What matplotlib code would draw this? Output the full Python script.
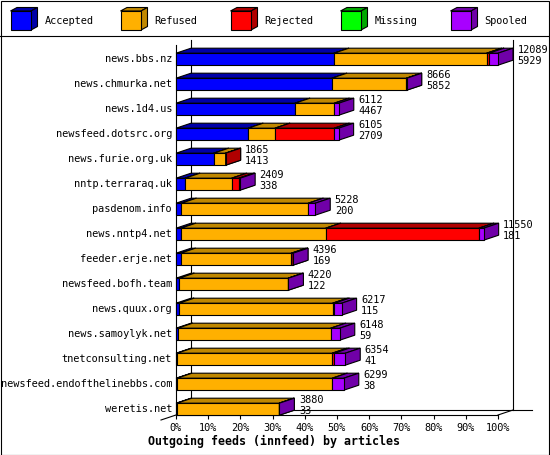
"""Outgoing feeds (innfeed) by articles - 3D stacked bar chart."""

import matplotlib

matplotlib.use("Agg")

import matplotlib.pyplot as plt
from matplotlib.patches import Polygon, Rectangle

plt.rcParams["font.family"] = ["DejaVu Sans Mono"]

sites = [
    "news.bbs.nz", "news.chmurka.net", "news.1d4.us", "newsfeed.dotsrc.org",
    "news.furie.org.uk", "nntp.terraraq.uk", "pasdenom.info", "news.nntp4.net",
    "feeder.erje.net", "newsfeed.bofh.team", "news.quux.org",
    "news.samoylyk.net", "tnetconsulting.net", "newsfeed.endofthelinebbs.com",
    "weretis.net",
]
totals = [12089, 8666, 6112, 6105, 1865, 2409, 5228, 11550, 4396, 4220,
          6217, 6148, 6354, 6299, 3880]
accepted = [5929, 5852, 4467, 2709, 1413, 338, 200, 181, 169, 122,
            115, 59, 41, 38, 33]
refused = [5735, 2800, 1476, 1008, 448, 1753, 4767, 5439, 4160, 4090,
           5767, 5748, 5827, 5830, 3840]
rejected = [86, 0, 0, 2226, 4, 274, 0, 5755, 55, 0, 61, 0, 75, 0, 0]
missing = [0, 0, 0, 0, 0, 0, 0, 0, 0, 0, 0, 0, 0, 0, 0]
spooled = [339, 14, 169, 162, 0, 44, 261, 175, 12, 8, 274, 341, 411, 431, 7]

series_names = ["Accepted", "Refused", "Rejected", "Missing", "Spooled"]
front_colors = ["#0000ff", "#ffb000", "#ff0000", "#00ff00", "#a800ff"]
dark_colors = ["#0000a8", "#c08800", "#b00000", "#00a800", "#7000a8"]

x_ticks = list(range(0, 101, 10))
x_label = "Outgoing feeds (innfeed) by articles"

W, H = 550, 455
BLACK = "#000000"
LW = 0.8

fig = plt.figure(figsize=(W / 100, H / 100), dpi=100)

# plot axes: x in percent of the largest total, y in row units
ax = fig.add_axes([176 / W, (H - 415) / H, 322 / W, 370 / H])
ax.set_xlim(0, 100)
ax.set_ylim(14.232, -0.568)
PX_X = 100 / 322
PX_Y = 1 / 25
DX = 15 * PX_X
DY = 5 * PX_Y
HALF = 6 * PX_Y


def draw_box(axis, x0, x1, yc, face, dark, dx, dy, half, z):
    top, bot = yc - half, yc + half
    axis.add_patch(Polygon([(x0, top), (x1, top), (x1 + dx, top - dy),
                            (x0 + dx, top - dy)], closed=True, facecolor=dark,
                           edgecolor=BLACK, lw=LW, zorder=z, clip_on=False))
    axis.add_patch(Polygon([(x1, top), (x1 + dx, top - dy),
                            (x1 + dx, bot - dy), (x1, bot)], closed=True,
                           facecolor=dark, edgecolor=BLACK, lw=LW, zorder=z,
                           clip_on=False))
    axis.add_patch(Rectangle((x0, top), x1 - x0, bot - top, facecolor=face,
                             edgecolor=BLACK, lw=LW, zorder=z, clip_on=False))


# back walls / floor
back_kw = dict(color=BLACK, lw=LW, clip_on=False, zorder=1)
y_top, y_bot = ax.get_ylim()[1], ax.get_ylim()[0]
ax.plot([DX, DX], [y_top - DY, y_bot - DY], **back_kw)
ax.plot([100 + DX, 100 + DX], [y_top - DY, y_bot - DY], **back_kw)
ax.plot([DX, 100 + DX + 19 * PX_X], [y_bot - DY, y_bot - DY], **back_kw)
ax.plot([100, 100 + DX], [y_bot, y_bot - DY], **back_kw)
ax.plot([-DX, DX], [y_bot + DY, y_bot - DY], **back_kw)

vmax = max(totals)
series = [accepted, refused, rejected, missing, spooled]
z = 2
for i, site in enumerate(sites):
    left = 0.0
    for k, vals in enumerate(series):
        v = vals[i]
        if v <= 0:
            continue
        w = v / vmax * 100
        draw_box(ax, left, left + w, i, front_colors[k], dark_colors[k],
                 DX, DY, HALF, z)
        z += 0.01
        left += w
    end = totals[i] / vmax * 100
    tx = end + DX + 4.5 * PX_X
    ax.text(tx, i - 9.5 * PX_Y, str(totals[i]), ha="left", va="center",
            fontsize=7.4, clip_on=False, zorder=5)
    ax.text(tx, i + 2 * PX_Y, str(accepted[i]), ha="left", va="center",
            fontsize=7.4, clip_on=False, zorder=5)
    ax.text(-4 * PX_X, i, site, ha="right", va="center", fontsize=7.4,
            clip_on=False)

ax.set_xticks(x_ticks)
ax.set_xticklabels([f"{t}%" for t in x_ticks], fontsize=7.4)
ax.set_yticks([])
ax.tick_params(axis="x", direction="out", length=3, width=LW, pad=2.5,
               colors=BLACK)
for side in ("top", "right"):
    ax.spines[side].set_visible(False)
for side in ("left", "bottom"):
    ax.spines[side].set_linewidth(LW)
    ax.spines[side].set_zorder(1.5)
ax.patch.set_visible(False)

fig.text(274 / W, 1 - 441 / H, x_label, ha="center", va="center",
         fontsize=8.4, fontweight="bold")

# legend strip (pixel units)
lax = fig.add_axes([0, 1 - 36 / H, 1, 36 / H])
lax.set_xlim(0, W)
lax.set_ylim(36, 0)
lax.axis("off")
for k, name in enumerate(series_names):
    bx = 10.5 + 110 * k
    lax.add_patch(Polygon([(bx, 11), (bx + 20.5, 11), (bx + 27, 7.5),
                           (bx + 6.5, 7.5)], closed=True,
                          facecolor=dark_colors[k], edgecolor=BLACK, lw=LW))
    lax.add_patch(Polygon([(bx + 20.5, 11), (bx + 27, 7.5), (bx + 27, 26.5),
                           (bx + 20.5, 30)], closed=True,
                          facecolor=dark_colors[k], edgecolor=BLACK, lw=LW))
    lax.add_patch(Rectangle((bx, 11), 20.5, 19, facecolor=front_colors[k],
                            edgecolor=BLACK, lw=LW))
    lax.text(bx + 34, 21, name, ha="left", va="center", fontsize=7.4)

# separator and outer frame
fig.add_artist(plt.Line2D([0, 1], [1 - 36 / H, 1 - 36 / H],
                          transform=fig.transFigure, color=BLACK, lw=LW))
fig.add_artist(Rectangle((0.5 / W, 0.5 / H), 1 - 1.5 / W, 1 - 1.5 / H,
                         transform=fig.transFigure, fill=False,
                         edgecolor=BLACK, lw=LW))

fig.savefig("out.png", dpi=100, facecolor="white")
